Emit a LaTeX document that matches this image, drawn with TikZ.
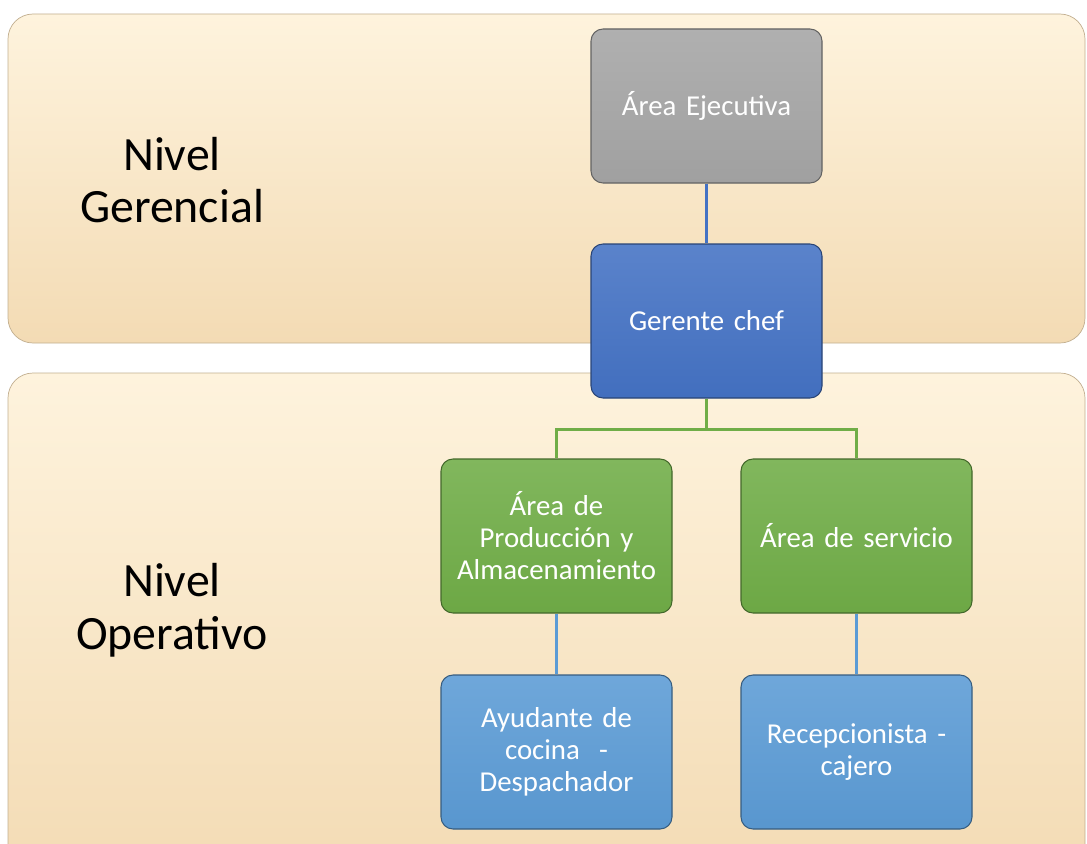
\documentclass[tikz,border=0pt]{standalone}
\usepackage{fontspec}
\setmainfont{Carlito}
\usepackage{xcolor}
\usepackage{tikz}
\usetikzlibrary{positioning}

\definecolor{bandtop}{HTML}{FEF3DD}
\definecolor{bandbot}{HTML}{F3DBB4}
\definecolor{execgray}{HTML}{A5A5A5}
\definecolor{chefblue}{HTML}{4472C4}
\definecolor{areagreen}{HTML}{70AD47}
\definecolor{staffblue}{HTML}{5B9BD5}

\begin{document}
\begin{tikzpicture}[node distance=4.3cm,
    band/.style={rounded corners=0.5cm, top color=bandtop, bottom color=bandbot, draw=bandbot!80!black, line width=0.4pt},
    box/.style={rectangle, rounded corners=0.24cm, draw=#1!60!black, line width=0.6pt,
        top color=#1!88!white, bottom color=#1!97!black, text=white,
        inner xsep=0.1cm, text width=4.4cm, align=center, minimum width=4.62cm, minimum height=3.08cm,
        font=\fontsize{16.4}{18.2}\selectfont},
    level/.style={font=\fontsize{27.2}{30}\selectfont, align=center},
    link/.style={line width=1.7pt}]

    \useasboundingbox (0,0) rectangle (21.74,-16.86);
    \clip (0,0) rectangle (21.74,-16.86);

    % background bands
    \path[band] (0.16,-0.28) rectangle (21.7,-6.86);
    \path[band] (0.16,-7.46) rectangle (21.7,-17.6);

    \node[level] (NG) at (3.44,-3.6) {Nivel\\Gerencial};
    \node[level] (NO) at (3.44,-12.2) {Nivel\\Operativo};

    \node[box=execgray] (EX) at (14.13,-2.12) {Área Ejecutiva};
    \node[box=chefblue, below of=EX] (GC) {Gerente chef};
    \node[box=areagreen, below of=GC, xshift=-3cm] (PA) {Área de\\Producción y\\Almacenamiento};
    \node[box=areagreen, right of=PA, node distance=6cm] (AS) {Área de servicio};
    \node[box=staffblue, below of=PA, node distance=4.32cm] (AY) {Ayudante de\\cocina\ \ -\\Despachador};
    \node[box=staffblue, below of=AS, node distance=4.32cm] (RC) {Recepcionista -\\cajero};

    \draw[link, chefblue] (EX) -- (GC);
    \draw[link, areagreen] (GC.south) -- ++(0,-0.62) -| (PA.north);
    \draw[link, areagreen] (GC.south) -- ++(0,-0.62) -| (AS.north);
    \draw[link, staffblue] (PA) -- (AY);
    \draw[link, staffblue] (AS) -- (RC);
\end{tikzpicture}
\end{document}
